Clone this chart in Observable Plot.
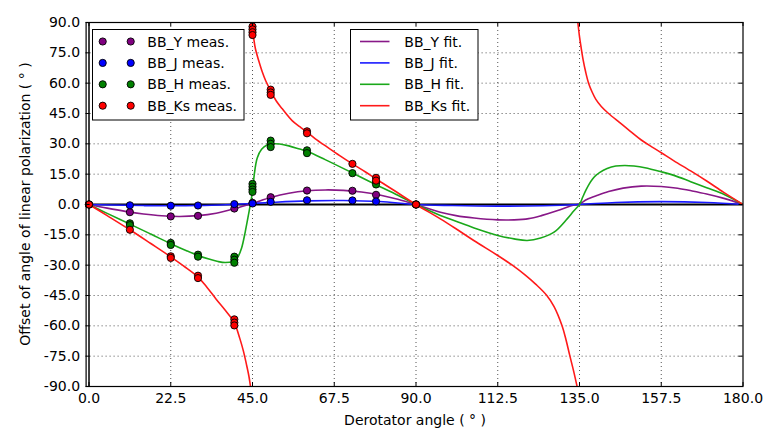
<!DOCTYPE html>
<html>
<head>
<meta charset="utf-8">
<script src="https://cdn.jsdelivr.net/npm/d3@7"></script>
<script src="https://cdn.jsdelivr.net/npm/@observablehq/plot@0.6"></script>
<style>
  html, body { margin: 0; padding: 0; background: #fff; }
  #chart { width: 779px; height: 448px; }
  svg { font-family: "DejaVu Sans", sans-serif; }
</style>
</head>
<body>
<div id="chart"></div>
<script>
// ---------- data ----------
const bands = ["BB_Y", "BB_J", "BB_H", "BB_Ks"];
const bandColors = ["#800080", "#0000ff", "#008000", "#ff0000"];
const fitColors = ["#881888", "#1a1aff", "#1aa81a", "#ff1a1a"];

const xTicks = [0, 22.5, 45, 67.5, 90, 112.5, 135, 157.5, 180];
const yTicks = [-90, -75, -60, -45, -30, -15, 0, 15, 30, 45, 60, 75, 90];

// measurements
const measY_angle = [0, 11.25, 22.5, 30, 40, 45, 50, 60, 72.5, 79, 90];
const measY_value = [0, -3.8, -5.9, -5.6, -2.0, 0.8, 3.6, 6.9, 6.8, 4.8, 0];

const measJ_angle = [0, 11.25, 22.5, 30, 40, 45, 50, 60, 72.5, 79, 90];
const measJ_value = [0, -0.4, -0.6, -0.5, 0.2, 0.5, 1.3, 2.1, 2.0, 1.5, 0];

const measH_angle = [0, 11.25, 11.25, 22.5, 22.5, 30, 30, 40, 40, 40, 45, 45, 45, 45, 50, 50, 50, 60, 60, 72.5, 79, 79, 90];
const measH_value = [0, -9.3, -10.2, -19.0, -20.0, -24.8, -25.8, -25.8, -27.3, -28.8, 10.2, 8.8, 7.4, 6.2, 31.6, 30.0, 28.4, 26.8, 25.4, 15.5, 11.0, 9.9, 0];

const measKs_angle = [0, 11.25, 22.5, 22.5, 30, 30, 40, 40, 40, 45, 45, 45, 45, 50, 50, 50, 60, 60, 72.5, 79, 79, 90];
const measKs_value = [0, -12.5, -25.6, -26.4, -35.2, -36.4, -56.8, -58.4, -59.8, 88.0, 86.6, 85.2, 83.8, 56.8, 55.4, 54.2, 36.2, 35.2, 20.1, 13.2, 11.8, 0];

// fitted curves; null separates wrapped segments
const fitY_angle = [0, 5, 10, 15, 20, 25, 30, 35, 40, 45, 50, 55, 60, 65, 70, 75, 80, 85, 90, 96.7, 101, 106, 112.5, 117, 121, 124.5, 129, 132.5, 135, 137, 140, 143, 147, 152, 157.5, 162, 166, 170, 175, 180];
const fitY_value = [0, -1.8, -3.4, -4.7, -5.6, -5.9, -5.5, -4.3, -2.1, 0.6, 3.5, 5.6, 6.8, 7.2, 7.0, 6.2, 4.7, 2.6, 0, -3.8, -5.5, -6.7, -7.6, -7.6, -7.0, -5.5, -3.0, -0.7, 0.3, 2.5, 4.6, 6.4, 8.1, 9.1, 8.9, 8.0, 6.7, 5.2, 2.9, 0];

const fitJ_angle = [0, 10, 20, 30, 40, 45, 50, 60, 70, 80, 90, 100, 112.5, 125, 135, 145, 157.5, 170, 180];
const fitJ_value = [0, -0.4, -0.6, -0.5, 0.1, 0.5, 1.0, 1.8, 2.0, 1.5, 0, -0.5, -0.8, -0.6, 0, 1.0, 1.4, 1.0, 0];

const fitH_angle = [0, 5, 11.25, 17, 22.5, 27, 30, 33, 35.5, 37.5, 39.5, 41, 42, 43, 44, 44.5, 45, 45.5, 46.3, 47.5, 49, 50.5, 52.5, 55, 58, 60, 65, 72.5, 79, 85, 90, 96.7, 101, 106, 112.5, 117, 120.6, 124.3, 128, 131.6, 133.4, 135, 135.9, 136.8, 137.7, 138.6, 139.5, 140.5, 142.6, 145, 147.5, 150, 153, 157.5, 161, 165.6, 170, 174.7, 180];
const fitH_value = [0, -4.4, -9.7, -14.6, -19.4, -23.0, -25.2, -27.0, -28.2, -28.7, -28.2, -25.8, -21.5, -13.5, -4.0, 1.0, 6.5, 15.0, 23.0, 27.3, 29.4, 30.0, 29.9, 29.0, 27.4, 26.3, 22.2, 15.6, 9.8, 4.6, 0, -5.4, -8.3, -11.6, -15.3, -17.0, -17.8, -16.6, -13.7, -7.1, -3.2, 0, 3.7, 7.2, 10.2, 12.6, 14.4, 15.8, 17.8, 19.0, 19.3, 19.0, 18.2, 16.2, 14.4, 11.3, 8.3, 5.1, 0];

const fitKs_angle = [0, 5, 11.25, 17, 22.5, 26, 30, 32.5, 35, 37.5, 40, 41.5, 42.5, 43.3, 44, 44.45,
  44.6,
  44.75, 45, 45.3, 45.8, 46.7, 47.7, 48.6, 50.1, 51.5, 53.2, 55.9, 58, 60, 62.3, 65.5, 69, 72.5, 76, 79, 84, 90, 96.7, 101, 105.9, 112.5, 116.5, 120, 123, 126, 128, 130.2, 131.3, 132.3, 133.4, 134.4,
  134.5,
  134.55, 135, 135.5, 136, 136.7, 137.5, 138.5, 139.5, 141, 143, 146, 149, 152, 155, 157.5, 161, 165.6, 170, 174.7, 180];
const fitKs_value = [0, -5.5, -12.5, -19.3, -25.9, -30.4, -35.9, -41.0, -46.8, -52.3, -58.5, -66.2, -72.5, -78.8, -84.8, -90,
  null,
  90, 86.5, 82.5, 77, 71.2, 65.5, 61.3, 55.9, 51.3, 47.3, 41.5, 38.5, 35.8, 32.5, 28.5, 24.2, 20.1, 16.2, 12.6, 6.9, 0, -7.1, -12.0, -17.8, -25.2, -30.0, -34.8, -39.5, -45.0, -50.5, -60.0, -67.0, -74.5, -82.5, -90.5,
  null,
  90, 83, 77, 71.5, 65.5, 60, 55.5, 52, 48.5, 45, 40.6, 36.2, 31.9, 28.4, 25.6, 21.6, 16.6, 11.6, 6.0, 0];

// ---------- tables ----------
const measAngles = [measY_angle, measJ_angle, measH_angle, measKs_angle];
const measValues = [measY_value, measJ_value, measH_value, measKs_value];
const fitAngles = [fitY_angle, fitJ_angle, fitH_angle, fitKs_angle];
const fitValues = [fitY_value, fitJ_value, fitH_value, fitKs_value];

const meas = [], fits = [];
bands.forEach((b, i) => {
  measAngles[i].forEach((a, k) => meas.push({band: b, color: bandColors[i], x: a, y: measValues[i][k]}));
  fitAngles[i].forEach((a, k) => fits.push({band: b, color: fitColors[i], x: a, y: fitValues[i][k]}));
});

// ---------- layout ----------
const W = 779, H = 448;
const mL = 85.6, mR = 36.5, mT = 22, mB = 62;
const plotH = H - mT - mB, plotW = W - mL - mR;
const tickLen = 4;
const fmt = d => d.toFixed(1);
const grid = {stroke: "#000", strokeOpacity: 0.85, strokeWidth: 0.8, strokeDasharray: "1,3"};

const chart = Plot.plot({
  width: W, height: H,
  marginLeft: mL, marginRight: mR, marginTop: mT, marginBottom: mB,
  style: {fontFamily: "DejaVu Sans, sans-serif", fontSize: "14px", color: "#000", background: "#fff"},
  x: {domain: [-0.8, 180]},
  y: {domain: [-90, 90]},
  marks: [
    Plot.gridX(xTicks.filter(d => d > 0 && d < 180), grid),
    Plot.gridY(yTicks.filter(d => d > -90 && d < 90), grid),
    Plot.ruleY([0], {stroke: "#000", strokeWidth: 2}),
    Plot.ruleX([0], {stroke: "#000", strokeWidth: 1.5}),
    Plot.line(fits, {x: "x", y: "y", z: "band", stroke: "color", strokeWidth: 1.6, curve: "catmull-rom", clip: true}),
    Plot.dot(meas, {x: "x", y: "y", r: 3.6, fill: "color", stroke: "#000", strokeWidth: 0.9}),
    // inward ticks on all four sides
    Plot.ruleX(xTicks, {x: d => d, insetTop: plotH - tickLen, stroke: "#000"}),
    Plot.ruleX(xTicks, {x: d => d, insetBottom: plotH - tickLen, stroke: "#000"}),
    Plot.ruleY(yTicks, {y: d => d, x1: -0.8, x2: 180, insetRight: plotW - tickLen, stroke: "#000"}),
    Plot.ruleY(yTicks, {y: d => d, x1: -0.8, x2: 180, insetLeft: plotW - tickLen, stroke: "#000"}),
    Plot.axisX(xTicks, {tickSize: 0, tickPadding: 7, tickFormat: fmt, label: null, fontSize: 14}),
    Plot.axisY(yTicks, {tickSize: 0, tickPadding: 6, tickFormat: fmt, label: null, fontSize: 14}),
    Plot.frame({stroke: "#000", strokeWidth: 1.2})
  ]
});

document.getElementById("chart").appendChild(chart);

// ---------- labels and legends ----------
const svg = d3.select(chart);
svg.append("text")
  .attr("x", mL + plotW / 2 + 1).attr("y", 425)
  .attr("text-anchor", "middle").attr("font-size", 14).attr("fill", "#000")
  .text("Derotator angle ( ° )");
svg.append("text")
  .attr("transform", `translate(30,${mT + plotH / 2}) rotate(-90)`)
  .attr("text-anchor", "middle").attr("font-size", 14).attr("fill", "#000")
  .text("Offset of angle of linear polarization ( ° )");

const rowY = i => 41.5 + i * 21.4;

const leg1 = svg.append("g");
leg1.append("rect").attr("x", 92.5).attr("y", 29.5).attr("width", 151.5).attr("height", 90.5)
  .attr("fill", "#fff").attr("stroke", "#000").attr("stroke-width", 1);
bands.forEach((b, i) => {
  [102.7, 130.7].forEach(cx => leg1.append("circle").attr("cx", cx).attr("cy", rowY(i)).attr("r", 3.6)
    .attr("fill", bandColors[i]).attr("stroke", "#000").attr("stroke-width", 0.9));
  leg1.append("text").attr("x", 147.3).attr("y", rowY(i)).attr("dy", "0.36em")
    .attr("text-anchor", "start")
    .attr("font-size", 14).attr("fill", "#000").text(b + " meas.");
});

const leg2 = svg.append("g");
leg2.append("rect").attr("x", 350.5).attr("y", 29.5).attr("width", 127.5).attr("height", 90.5)
  .attr("fill", "#fff").attr("stroke", "#000").attr("stroke-width", 1);
bands.forEach((b, i) => {
  leg2.append("line").attr("x1", 360).attr("x2", 389.5).attr("y1", rowY(i)).attr("y2", rowY(i))
    .attr("stroke", fitColors[i]).attr("stroke-width", 1.6);
  leg2.append("text").attr("x", 404.3).attr("y", rowY(i)).attr("dy", "0.36em")
    .attr("text-anchor", "start")
    .attr("font-size", 14).attr("fill", "#000").text(b + " fit.");
});
</script>
</body>
</html>
